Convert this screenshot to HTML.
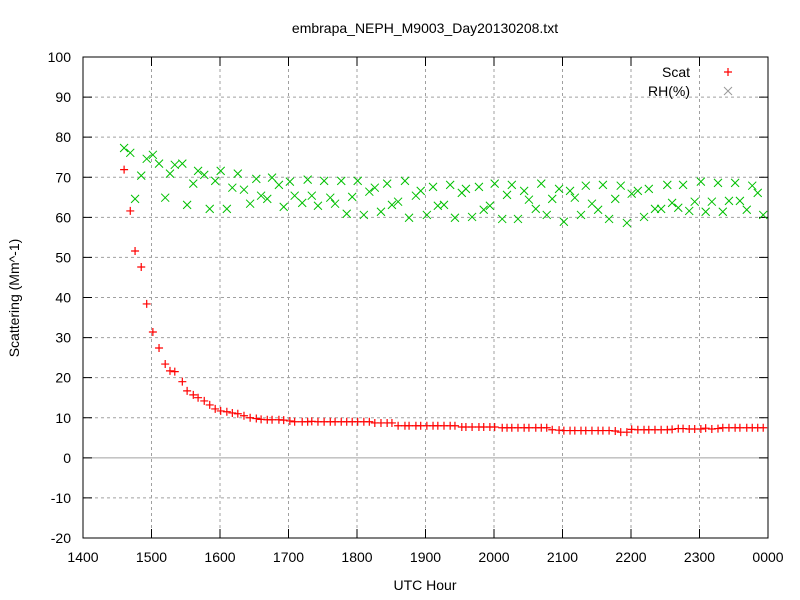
<!DOCTYPE html>
<html><head><meta charset="utf-8"><style>
body{margin:0;background:#fff}
svg{display:block;font-family:"Liberation Sans",sans-serif;font-size:14px}
</style></head><body>
<svg id="chart" width="800" height="600" viewBox="0 0 800 600">
<text x="425" y="33" text-anchor="middle">embrapa_NEPH_M9003_Day20130208.txt</text>
<text x="425" y="590" text-anchor="middle">UTC Hour</text>
<text x="19" y="298" text-anchor="middle" transform="rotate(-90 19 298)">Scattering (Mm^-1)</text>
<g id="grid"></g>
<g id="axes"></g>
<g id="marks"></g>
<g>
<text x="690" y="77" text-anchor="end">Scat</text>
<path d="M724 72h8M728 68v8" stroke="#f00" stroke-width="1.2"/>
<text x="690" y="96" text-anchor="end">RH(%)</text>
<path d="M724 87l8 8M732 87l-8 8" stroke="#999" stroke-width="1"/>
</g>
</svg>
<script>
const xTicks=[14,15,16,17,18,19,20,21,22,23,24];
const xTickLabels=["1400","1500","1600","1700","1800","1900","2000","2100","2200","2300","0000"];
const yTicks=[-20,-10,0,10,20,30,40,50,60,70,80,90,100];
const times=[14.60,14.69,14.76,14.85,14.93,15.02,15.11,15.20,15.27,15.34,15.45,15.52,15.61,15.68,15.77,15.85,15.93,16.01,16.10,16.18,16.26,16.35,16.44,16.53,16.60,16.69,16.76,16.86,16.93,17.02,17.09,17.20,17.28,17.34,17.43,
17.52,17.61,17.68,17.77,17.85,17.93,18.01,18.10,18.18,18.26,18.35,18.44,18.51,18.60,18.70,18.76,18.86,18.93,19.02,19.11,19.18,19.27,19.36,19.43,19.53,19.59,19.68,19.78,19.85,19.94,20.01,20.12,20.19,20.26,20.35,20.44,20.51,20.61,20.69,20.77,
20.85,20.95,21.02,21.11,21.18,21.27,21.34,21.43,21.52,21.59,21.68,21.77,21.85,21.94,22.01,22.10,22.19,22.26,22.35,22.44,22.53,22.60,22.69,22.76,22.85,22.93,23.02,23.09,23.18,23.27,23.34,23.43,23.52,23.59,23.69,23.77,23.85,23.93];
const scat=[71.9,61.6,51.6,47.6,38.4,31.4,27.4,23.4,21.7,21.5,19.0,16.7,15.7,15.0,14.2,13.2,12.2,11.7,11.5,11.2,11.0,10.5,10.0,9.8,9.6,9.5,9.5,9.5,9.4,9.2,9.0,9.0,9.0,9.1,9.0,
9.0,9.0,9.0,9.0,9.0,9.0,9.0,9.0,9.0,8.7,8.7,8.7,8.7,8.0,8.0,8.0,8.0,8.0,8.0,8.0,8.0,8.0,8.0,8.0,7.7,7.7,7.7,7.7,7.7,7.7,7.7,7.5,7.5,7.5,7.5,7.5,7.5,7.5,7.5,7.5,
7.0,6.9,6.8,6.8,6.8,6.8,6.8,6.8,6.8,6.8,6.8,6.7,6.4,6.4,7.1,7.0,7.0,7.0,7.0,7.0,7.0,7.1,7.3,7.3,7.2,7.2,7.2,7.4,7.2,7.3,7.5,7.5,7.5,7.5,7.5,7.5,7.5,7.5];
const rh=[77.3,76.1,64.6,70.4,74.6,75.6,73.4,64.9,70.9,73.1,73.4,63.1,68.4,71.6,70.6,62.1,69.1,71.6,62.1,67.4,70.9,66.9,63.4,69.6,65.4,64.6,69.9,68.1,62.6,68.9,65.4,63.6,69.4,65.4,62.9,
69.1,64.9,63.4,69.1,60.9,65.1,69.1,60.6,66.4,67.4,61.4,68.4,63.1,63.9,69.1,59.9,65.4,66.6,60.6,67.6,62.9,63.1,68.1,59.9,66.1,67.1,60.1,67.6,61.9,62.9,68.4,59.6,65.6,68.1,59.6,66.6,64.4,62.1,68.4,60.6,
64.6,67.1,58.9,66.6,64.9,60.6,67.9,63.4,61.9,68.1,59.6,64.6,67.9,58.6,65.9,66.6,60.1,67.1,62.1,62.1,68.1,63.6,62.4,68.1,61.6,63.9,68.9,61.4,63.9,68.6,61.4,64.1,68.6,64.1,61.9,67.9,66.1,60.6];

const L=83,R=768,T=57,B=538,X0=14,X1=24,Y0=-20,Y1=100;
const sx=v=>L+(v-X0)/(X1-X0)*(R-L);
const sy=v=>B-(v-Y0)/(Y1-Y0)*(B-T);
const NS="http://www.w3.org/2000/svg";
function mk(tag,attrs,parent){const e=document.createElementNS(NS,tag);for(const k in attrs)e.setAttribute(k,attrs[k]);parent.appendChild(e);return e;}
const grid=document.getElementById('grid'),axes=document.getElementById('axes'),marks=document.getElementById('marks');
yTicks.forEach(v=>{
  const y=sy(v);
  if(v>Y0&&v<Y1){
    const g=mk('line',{x1:L,x2:R,y1:y,y2:y,stroke:'#a0a0a0','stroke-width':1,'stroke-dasharray':v===0?'none':'3,3'},grid);
    
    
  }
  const t=mk('path',{d:`M${L} ${y}h9M${R} ${y}h-9`,stroke:'#000'},axes);
  
  
  const tx=mk('text',{x:L-12,y:y+5,'text-anchor':'end'},axes);tx.textContent=v;
  
  
});
xTicks.forEach((v,i)=>{
  const x=sx(v);
  if(v>X0&&v<X1){
    const g=mk('line',{x1:x,x2:x,y1:T,y2:B,stroke:'#a0a0a0','stroke-width':1,'stroke-dasharray':'3,3'},grid);
    
    
  }
  const t=mk('path',{d:`M${x} ${B}v-9M${x} ${T}v9`,stroke:'#000'},axes);
  
  
  const tx=mk('text',{x:x,y:B+24,'text-anchor':'middle'},axes);tx.textContent=xTickLabels[i];
  
  
});
const fr=mk('rect',{x:L,y:T,width:R-L,height:B-T,fill:'none',stroke:'#000'},axes);


rh.forEach((v,i)=>{
  const x=sx(times[i]),y=sy(v);
  const p=mk('path',{d:`M${x-4} ${y-4}l8 8M${x+4} ${y-4}l-8 8`,stroke:'#00c000','stroke-width':1},marks);
  
  
});
scat.forEach((v,i)=>{
  const x=sx(times[i]),y=sy(v);
  const p=mk('path',{d:`M${x-4} ${y}h8M${x} ${y-4}v8`,stroke:'#f00','stroke-width':1.2},marks);
  
  
});
</script>
</body></html>
